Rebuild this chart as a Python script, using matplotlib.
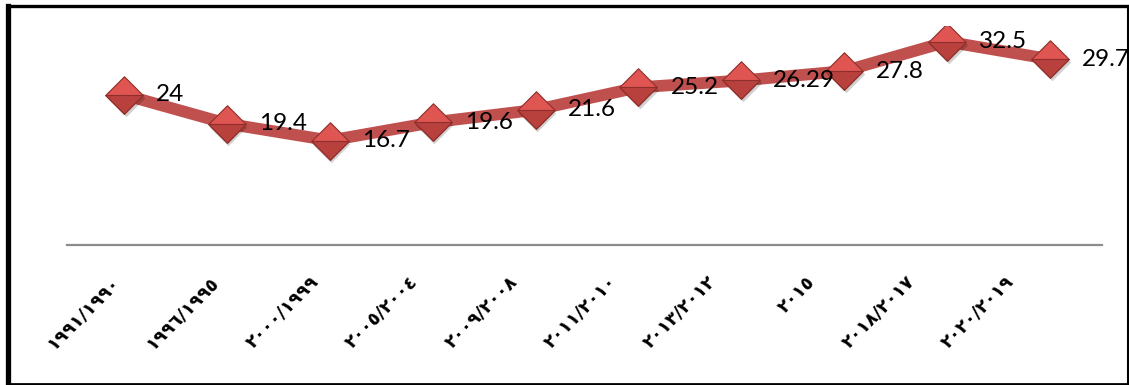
"""
Line chart with Arabic-Indic period labels, Excel-style red diamond markers.
"""
import matplotlib
matplotlib.use("Agg")
import matplotlib.pyplot as plt
from matplotlib.path import Path
from matplotlib.transforms import ScaledTranslation
from matplotlib.lines import Line2D

# -- Data ---------------------------------------------------------------------
periods = [
    "١٩٩١/١٩٩٠", "١٩٩٦/١٩٩٥", "٢٠٠٠/١٩٩٩", "٢٠٠٥/٢٠٠٤", "٢٠٠٩/٢٠٠٨",
    "٢٠١١/٢٠١٠", "٢٠١٣/٢٠١٢", "٢٠١٥", "٢٠١٨/٢٠١٧", "٢٠٢٠/٢٠١٩",
]
values = [24, 19.4, 16.7, 19.6, 21.6, 25.2, 26.29, 27.8, 32.5, 29.7]
value_labels = ["24", "19.4", "16.7", "19.6", "21.6", "25.2", "26.29", "27.8", "32.5", "29.7"]

# -- Palette --------------------------------------------------------------------
C_LINE   = "#C0504D"
C_TOP    = "#DE5552"
C_BOTTOM = "#B8403D"
C_EDGE   = "#8E2F2C"
C_AXIS   = "#8C8C8C"

DPI = 100
W, H = 1129, 385

# diamond marker and its lower half (same scale, so they line up)
DIAMOND = Path([(0, 1), (1, 0), (0, -1), (-1, 0), (0, 1)],
               [Path.MOVETO, Path.LINETO, Path.LINETO, Path.LINETO, Path.CLOSEPOLY])
LOWER = Path([(-1, 0), (1, 0), (0, -1), (-1, 0)],
             [Path.MOVETO, Path.LINETO, Path.LINETO, Path.CLOSEPOLY])

fig = plt.figure(figsize=(W / DPI, H / DPI), dpi=DPI, facecolor="white")
ax = fig.add_axes([67 / W, (H - 245) / H, (1102 - 67) / W, 219 / H])
ax.set_facecolor("none")

x = list(range(len(values)))

ax.plot(x, values, color=C_LINE, linewidth=8.5, solid_capstyle="butt",
        solid_joinstyle="round", zorder=2)

# soft shadow under the markers
shadow = ScaledTranslation(1.5 / DPI, -3 / DPI, fig.dpi_scale_trans)
ax.plot(x, values, linestyle="none", marker=DIAMOND, markersize=27,
        markerfacecolor="#000000", markeredgecolor="none", alpha=0.18,
        transform=ax.transData + shadow, zorder=3)
ax.plot(x, values, linestyle="none", marker=DIAMOND, markersize=27,
        markerfacecolor=C_TOP, markeredgecolor=C_EDGE, markeredgewidth=0.8, zorder=4)
ax.plot(x, values, linestyle="none", marker=LOWER, markersize=27,
        markerfacecolor=C_BOTTOM, markeredgecolor=C_EDGE, markeredgewidth=0.8, zorder=5)

for xi, v, lab in zip(x, values, value_labels):
    ax.annotate(lab, (xi, v), xytext=(23, 0), textcoords="offset points",
                ha="left", va="center", fontsize=17.5, family="Lato",
                color="#000000", zorder=6)

ax.set_xlim(-0.554, 9.505)
ax.set_ylim(0, 35)

ax.set_xticks(x)
ax.set_xticklabels(periods, rotation=45, ha="right", va="top",
                   fontsize=13, fontweight="bold", family="DejaVu Sans")
ax.tick_params(axis="x", length=0, pad=20)
# Excel spreads the rotated labels slightly tighter than the categories
for i, t in enumerate(ax.get_xticklabels()):
    t.set_transform(t.get_transform() +
                    ScaledTranslation(-(1 + 3.5 * i) / DPI, 0, fig.dpi_scale_trans))

ax.set_yticks([])
for side in ["top", "right", "left"]:
    ax.spines[side].set_visible(False)
ax.spines["bottom"].set_color(C_AXIS)
ax.spines["bottom"].set_linewidth(1.6)

# -- Outer black frame (thick left/top, thin right/bottom) ----------------------
def fig_line(x0, y0, x1, y1, lw):
    fig.add_artist(Line2D([x0 / W, x1 / W], [1 - y0 / H, 1 - y1 / H],
                          color="black", linewidth=lw, transform=fig.transFigure,
                          solid_capstyle="projecting"))

fig_line(7.5, 5.5, 7.5, 383, 3.8)
fig_line(7.5, 5.5, 1127.5, 5.5, 2.4)
fig_line(1127.5, 5.5, 1127.5, 383, 1.5)
fig_line(7.5, 383.5, 1127.5, 383.5, 2.0)

fig.savefig("out.png", dpi=DPI, facecolor="white")
